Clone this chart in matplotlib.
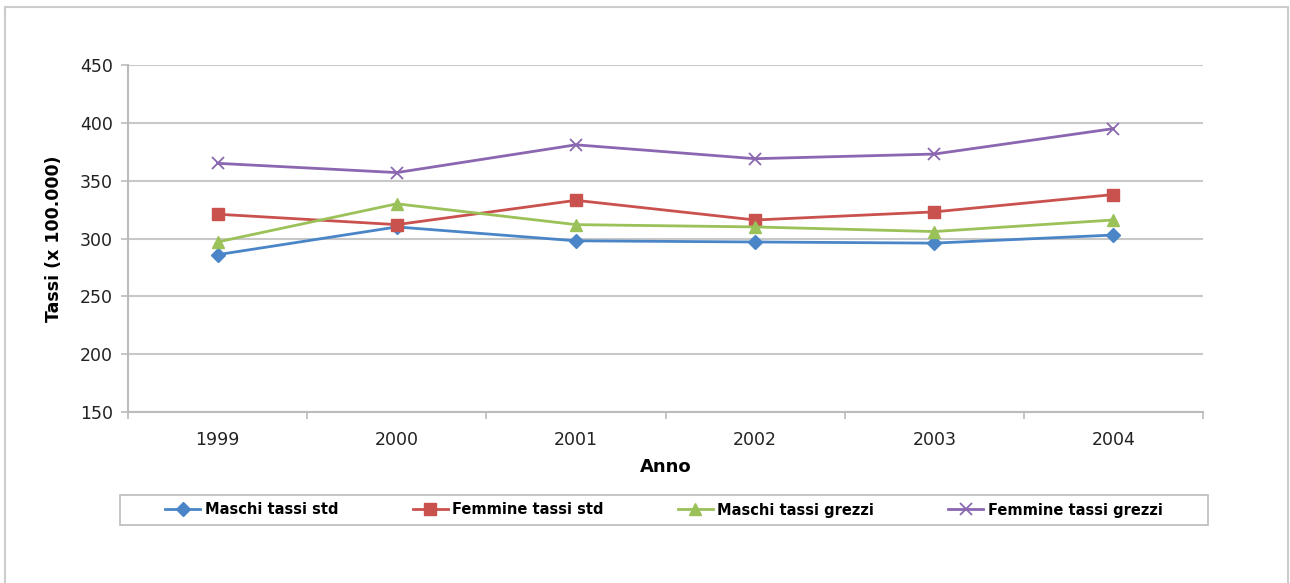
import numpy as np
import matplotlib.pyplot as plt
from matplotlib.patches import Rectangle

anni = ["1999", "2000", "2001", "2002", "2003", "2004"]
maschi_std = [286, 310, 298, 297, 296, 303]
femmine_std = [321, 312, 333, 316, 323, 338]
maschi_grezzi = [297, 330, 312, 310, 306, 316]
femmine_grezzi = [365, 357, 381, 369, 373, 395]

series = [
    ("Maschi tassi std", maschi_std, "#4A85C8", "D", 7),
    ("Femmine tassi std", femmine_std, "#C9514E", "s", 8),
    ("Maschi tassi grezzi", maschi_grezzi, "#9BC159", "^", 8),
    ("Femmine tassi grezzi", femmine_grezzi, "#8A67B0", "x", 9),
]

fig = plt.figure(figsize=(12.9, 5.83), dpi=100)
ax = fig.add_axes([128 / 1290, 1 - 412 / 583, 1075 / 1290, 347 / 583])

x = np.arange(len(anni))
for label, vals, color, marker, ms in series:
    ax.plot(x, vals, color=color, linewidth=2, marker=marker, markersize=ms,
            markeredgewidth=1.3 if marker == "x" else 1, label=label)

ax.set_xlim(-0.5, len(anni) - 0.5)
ax.set_ylim(150, 450)
ax.set_yticks(np.arange(150, 451, 50))
ax.set_xticks(x)
ax.set_xticklabels(anni)
ax.set_xticks(np.arange(-0.5, len(anni), 1), minor=True)
ax.tick_params(axis="x", which="major", length=0, pad=14, labelsize=12.5, labelcolor="#222222")
ax.tick_params(axis="x", which="minor", length=5, width=1.2, color="#bbbbbb", direction="out")
ax.tick_params(axis="y", length=5, width=1.2, color="#bbbbbb", labelsize=12.5, labelcolor="#222222", pad=6)

ax.yaxis.grid(True, color="#c8c8c8", linewidth=1.5)
ax.set_axisbelow(True)
for side in ["top", "right"]:
    ax.spines[side].set_visible(False)
for side in ["left", "bottom"]:
    ax.spines[side].set_color("#bbbbbb")
    ax.spines[side].set_linewidth(1.5)

ax.set_xlabel("Anno", fontsize=13, fontweight="bold", labelpad=6)
ax.set_ylabel("Tassi (x 100.000)", fontsize=12.5, fontweight="bold", labelpad=12)

# legend box drawn separately, entries centred inside it
fig.patches.append(Rectangle((120 / 1290, 1 - 525 / 583), 1088 / 1290, 30 / 583,
                             transform=fig.transFigure, fill=False,
                             edgecolor="#bbbbbb", linewidth=1.2))
handles, labels = ax.get_legend_handles_labels()
fig.legend(handles, labels, ncol=4, loc="center",
           bbox_to_anchor=(664 / 1290, 1 - 510 / 583),
           frameon=False, handlelength=2.4, handletextpad=0.3,
           columnspacing=5.1, borderaxespad=0,
           prop={"weight": "bold", "size": 10.5})

fig.patches.append(Rectangle((5 / 1290, -0.02), 1283 / 1290, 1.02 - 7 / 583,
                             transform=fig.transFigure, fill=False,
                             edgecolor="#cccccc", linewidth=1.5))

fig.savefig("out.png", dpi=100)
